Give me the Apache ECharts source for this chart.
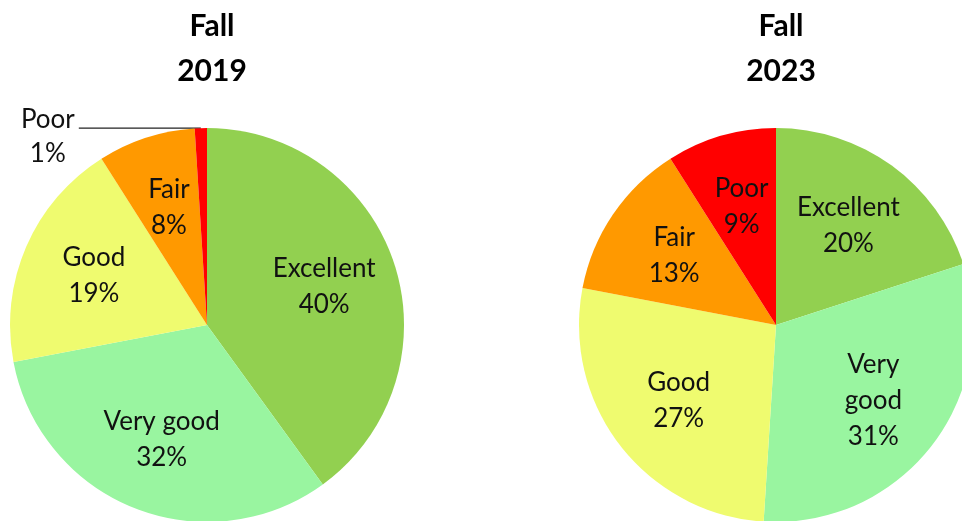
<!DOCTYPE html>
<html>
<head>
<meta charset="utf-8">
<script src="https://cdn.jsdelivr.net/npm/echarts@6/dist/echarts.min.js"></script>
<style>
  html, body { margin: 0; padding: 0; background: #fff; }
  #chart { width: 962px; height: 521px; }
</style>
</head>
<body>
<div id="chart"></div>
<script>
const categories = ['Excellent', 'Very good', 'Good', 'Fair', 'Poor']
const labels2019 = ['Excellent', 'Very good', 'Good', 'Fair', 'Poor']
const labels2023 = ['Excellent', 'Very\ngood', 'Good', 'Fair', 'Poor']
const values2019 = [40, 32, 19, 8, 1]
const values2023 = [20, 31, 27, 13, 9]
const titles = ['Fall\n2019', 'Fall\n2023']
const colors = ['#92D050', '#99F5A0', '#EFFB6F', '#FF9900', '#FF0000']

const font = 'Lato, "Noto Sans", sans-serif'
const R = 197
const centers = [[207, 325], [776, 325]]

const chart = echarts.init(document.getElementById('chart'))

// visible pie, no labels
const pieSeries = (values, center) => ({
  type: 'pie',
  center: center,
  radius: [0, R],
  startAngle: 90,
  silent: true,
  label: { show: false },
  labelLine: { show: false },
  itemStyle: { borderWidth: 0 },
  data: values.map((v, i) => ({
    name: categories[i],
    value: v,
    itemStyle: { color: colors[i] }
  }))
})

// transparent ring on top, just to push the inside labels outwards
const labelSeries = (values, texts, center, smallOutside) => ({
  type: 'pie',
  center: center,
  radius: [R * 0.22, R],
  startAngle: 90,
  silent: true,
  avoidLabelOverlap: false,
  itemStyle: { color: 'rgba(0,0,0,0)', borderWidth: 0 },
  label: {
    show: true,
    position: 'inside',
    fontFamily: font,
    fontSize: 26,
    lineHeight: 36,
    color: '#111',
    formatter: p => texts[p.dataIndex] + '\n' + p.value + '%'
  },
  labelLine: { show: false },
  data: values.map((v, i) => {
    const item = { name: categories[i], value: v }
    if (smallOutside && v < 2) {
      item.label = {
        position: 'outside',
        distanceToLabelLine: 2,
        padding: [18, 0, 0, 0],
        formatter: p => '{a|' + texts[p.dataIndex] + '}\n{a|' + p.value + '%}',
        rich: {
          a: { width: 58, align: 'center', fontFamily: font, fontSize: 26, lineHeight: 34, color: '#111' }
        }
      }
      item.labelLine = {
        show: true,
        length: 0,
        length2: 122,
        lineStyle: { color: '#222', width: 1.3 }
      }
    }
    return item
  })
})

chart.setOption({
  animation: false,
  title: titles.map((t, i) => ({
    text: t,
    left: centers[i][0],
    top: -1,
    textAlign: 'center',
    textStyle: {
      fontFamily: font,
      fontWeight: 'bold',
      fontSize: 30,
      lineHeight: 45,
      color: '#000'
    }
  })),
  series: [
    pieSeries(values2019, centers[0]),
    labelSeries(values2019, labels2019, centers[0], true),
    pieSeries(values2023, centers[1]),
    labelSeries(values2023, labels2023, centers[1], false)
  ]
})
</script>
</body>
</html>
